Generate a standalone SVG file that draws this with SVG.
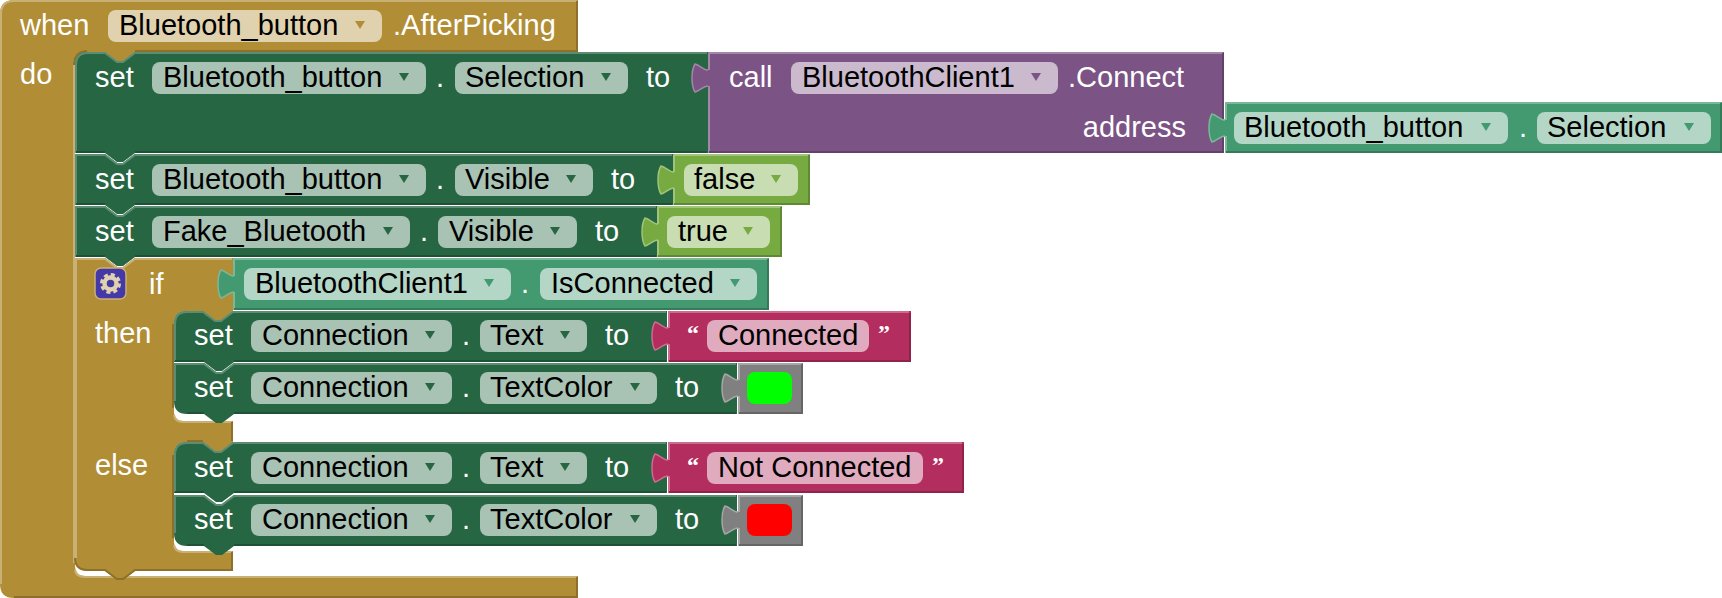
<svg xmlns="http://www.w3.org/2000/svg" width="1722" height="598" viewBox="0 0 1722 598">
<style>
text{font-family:"Liberation Sans",Arial,sans-serif;font-size:29px}
.w{fill:#fff}.k{fill:#000}
.e{fill:none;stroke-width:2}
.Y{fill:#b18e35}.Yl{stroke:#c9b074}.Yd{stroke:#8d712a}.Yf{fill:#e0d2ae}
.G{fill:#266643}.Gl{stroke:#5c8c72}.Gd{stroke:#1e5136}.Gf{fill:#a8c2b4}
.P{fill:#7c5385}.Pl{stroke:#a387a9}.Pd{stroke:#63426a}.Pf{fill:#cbbace}
.R{fill:#b32d5e}.Rl{stroke:#ca6c8e}.Rd{stroke:#8f244b}.Rf{fill:#e1abbf}
.T{fill:#439970}.Tl{stroke:#7bb89a}.Td{stroke:#357a59}.Tf{fill:#b4d6c6}
.B{fill:#77ab41}.Bl{stroke:#a0c47a}.Bd{stroke:#5f8934}.Bf{fill:#c9ddb3}
.N{fill:#808080}.Nl{stroke:#a6a6a6}.Nd{stroke:#666}
use[href="#tab"]{stroke-width:1.500}
.P[href="#tab"]{stroke:#a387a9}.R[href="#tab"]{stroke:#ca6c8e}.T[href="#tab"]{stroke:#7bb89a}.B[href="#tab"]{stroke:#a0c47a}.N[href="#tab"]{stroke:#a6a6a6}
.q{font-family:"Liberation Serif",serif;font-size:24px;font-weight:bold}
</style>
<defs>
<path id="tab" d="M0,-8 C-5,-8 -8,-13 -13,-14 C-15.500,-10 -16,-4 -16,0 C-16,4 -15.500,10 -13,14 C-8,13 -5,8 0,8"/>
<path id="arr" d="M-5,0 H5 L0,8 Z"/>
</defs>

<g id="when-block">
<path class="Y" d="M0,14 Q0,0 14,0 H578 V52 H135 L123,61 H117 L105,52 H88 Q75,52 75,65 V566 Q75,576 85,576 H578 V598 H14 Q0,598 0,584 Z"/>
<path class="e Yl" d="M1,584 V14 Q1,1 14,1 H577 M75,570 Q76,577 85,577 H577 M74,60 V563"/>
<path class="e Yd" d="M577,1 V51 H135 M577,577 V597 H14 M87,51 Q74,52 74,65"/>
<text class="w" x="20" y="35">when</text>
<rect class="Yf" x="108" y="10" width="274" height="32" rx="8"/>
<text class="k" x="119" y="35">Bluetooth_button</text>
<use href="#arr" class="Y" x="360" y="21"/>
<text class="w" x="393" y="35">.AfterPicking</text>
<text class="w" x="20" y="84">do</text>
</g>

<g id="set-selection">
<path class="G" d="M75,65 Q75,52 88,52 H105 L117,61 H123 L135,52 H708 V153 H135 L123,162 H117 L105,153 H75 Z"/>
<path class="e Gl" d="M76,153 V65 Q76,53 88,53 H105 L117,62 H123 L135,53 H707"/>
<path class="e Gd" d="M76,152 H105 M135,152 H707"/>
<text class="w" x="95" y="87">set</text>
<rect class="Gf" x="152" y="62" width="274" height="32" rx="8"/>
<text class="k" x="163" y="87">Bluetooth_button</text>
<use href="#arr" class="G" x="404" y="73"/>
<text class="w" x="436" y="87">.</text>
<rect class="Gf" x="455" y="62" width="173" height="32" rx="8"/>
<text class="k" x="465" y="87">Selection</text>
<use href="#arr" class="G" x="606" y="73"/>
<text class="w" x="646" y="87">to</text>
</g>

<g id="call-connect">
<path class="P" d="M708,52 H1224 V153 H708 Z"/>
<use href="#tab" class="P" x="708" y="78"/>
<path class="e Pl" d="M709,70 V53 H1223 M709,86 V153"/>
<path class="e Pd" d="M1223,53 V152 H709"/>
<text class="w" x="729" y="87">call</text>
<rect class="Pf" x="791" y="62" width="267" height="32" rx="8"/>
<text class="k" x="802" y="87">BluetoothClient1</text>
<use href="#arr" class="P" x="1036" y="73"/>
<text class="w" x="1068" y="87">.Connect</text>
<text class="w" x="1186" y="137" text-anchor="end">address</text>
</g>

<g id="get-selection">
<path class="T" d="M1225,102 H1722 V153 H1225 Z"/>
<use href="#tab" class="T" x="1225" y="128"/>
<path class="e Tl" d="M1226,120 V103 H1721 M1226,136 V153"/>
<path class="e Td" d="M1721,103 V152 H1226"/>
<rect class="Tf" x="1234" y="112" width="274" height="32" rx="8"/>
<text class="k" x="1244" y="137">Bluetooth_button</text>
<use href="#arr" class="T" x="1486" y="123"/>
<text class="w" x="1519" y="137">.</text>
<rect class="Tf" x="1537" y="112" width="174" height="32" rx="8"/>
<text class="k" x="1547" y="137">Selection</text>
<use href="#arr" class="T" x="1689" y="123"/>
</g>

<g id="set-visible-1">
<path class="G" d="M75,154 H105 L117,163 H123 L135,154 H673 V205 H135 L123,214 H117 L105,205 H75 Z"/>
<path class="e Gl" d="M76,205 V155 H105 L117,164 H123 L135,155 H672"/>
<path class="e Gd" d="M76,204 H105 M135,204 H672"/>
<text class="w" x="95" y="189">set</text>
<rect class="Gf" x="152" y="164" width="274" height="32" rx="8"/>
<text class="k" x="163" y="189">Bluetooth_button</text>
<use href="#arr" class="G" x="404" y="175"/>
<text class="w" x="436" y="189">.</text>
<rect class="Gf" x="455" y="164" width="138" height="32" rx="8"/>
<text class="k" x="465" y="189">Visible</text>
<use href="#arr" class="G" x="571" y="175"/>
<text class="w" x="611" y="189">to</text>
</g>

<g id="bool-false">
<path class="B" d="M673,154 H810 V205 H673 Z"/>
<use href="#tab" class="B" x="674" y="180"/>
<path class="e Bl" d="M674,172 V155 H809 M674,188 V205"/>
<path class="e Bd" d="M809,155 V204 H674"/>
<rect class="Bf" x="684" y="164" width="114" height="32" rx="8"/>
<text class="k" x="694" y="189">false</text>
<use href="#arr" class="B" x="776" y="175"/>
</g>

<g id="set-visible-2">
<path class="G" d="M75,206 H105 L117,215 H123 L135,206 H657 V257 H135 L123,266 H117 L105,257 H75 Z"/>
<path class="e Gl" d="M76,257 V207 H105 L117,216 H123 L135,207 H656"/>
<path class="e Gd" d="M76,256 H105 M135,256 H656"/>
<text class="w" x="95" y="241">set</text>
<rect class="Gf" x="152" y="216" width="258" height="32" rx="8"/>
<text class="k" x="163" y="241">Fake_Bluetooth</text>
<use href="#arr" class="G" x="388" y="227"/>
<text class="w" x="420" y="241">.</text>
<rect class="Gf" x="438" y="216" width="139" height="32" rx="8"/>
<text class="k" x="449" y="241">Visible</text>
<use href="#arr" class="G" x="555" y="227"/>
<text class="w" x="595" y="241">to</text>
</g>

<g id="bool-true">
<path class="B" d="M657,206 H782 V257 H657 Z"/>
<use href="#tab" class="B" x="658" y="232"/>
<path class="e Bl" d="M658,224 V207 H781 M658,240 V257"/>
<path class="e Bd" d="M781,207 V256 H658"/>
<rect class="Bf" x="667" y="216" width="103" height="32" rx="8"/>
<text class="k" x="678" y="241">true</text>
<use href="#arr" class="B" x="748" y="227"/>
</g>

<g id="if-block">
<path class="Y" d="M75,258 H105 L117,267 H123 L135,258 H233 V311 L221,320 H215 L203,311 H187 Q174,311 174,324 V412 Q174,421 183,421 H233 V442 L221,451 H215 L203,442 H187 Q174,442 174,455 V542 Q174,551 183,551 H233 V571 H135 L123,580 H117 L105,571 H88 Q75,571 75,558 Z"/>
<path class="e Yl" d="M76,558 V259 H105 L117,268 H123 L135,259 H232 M174,415 Q175,422 183,422 H232 M174,545 Q175,552 183,552 H232"/>
<path class="e Yd" d="M232,422 V441 M232,552 V570 H135 L123,579 H117 L105,570 H88 Q75,570 75,558 M173,324 V408 M173,455 V538 M187,441 H203"/>
<rect x="95" y="268" width="31" height="31" rx="6" fill="#4539a8" stroke="#c9b074" stroke-width="1.500"/>
<circle cx="110.500" cy="283.500" r="6" fill="none" stroke="#e0d2ae" stroke-width="4.500"/>
<circle cx="110.500" cy="283.500" r="9" fill="none" stroke="#e0d2ae" stroke-width="3" stroke-dasharray="4.070 3"/>
<text class="w" x="149" y="294">if</text>
<text class="w" x="95" y="343">then</text>
<text class="w" x="95" y="475">else</text>
</g>

<g id="get-isconnected">
<path class="T" d="M233,258 H769 V310 H233 Z"/>
<use href="#tab" class="T" x="234" y="284"/>
<path class="e Tl" d="M234,276 V259 H768 M234,292 V310"/>
<path class="e Td" d="M768,259 V309 H234"/>
<rect class="Tf" x="244" y="268" width="267" height="32" rx="8"/>
<text class="k" x="255" y="293">BluetoothClient1</text>
<use href="#arr" class="T" x="489" y="279"/>
<text class="w" x="521" y="293">.</text>
<rect class="Tf" x="540" y="268" width="217" height="32" rx="8"/>
<text class="k" x="551" y="293">IsConnected</text>
<use href="#arr" class="T" x="735" y="279"/>
</g>

<g id="then-set-text">
<path class="G" d="M174,324 Q174,311 187,311 H203 L215,320 H221 L233,311 H667 V362 H234 L222,371 H216 L204,362 H174 Z"/>
<path class="e Gl" d="M175,361 V324 Q175,312 187,312 H203 L215,321 H221 L233,312 H666"/>
<path class="e Gd" d="M175,361 H204 M234,361 H666"/>
<text class="w" x="194" y="345">set</text>
<rect class="Gf" x="251" y="320" width="201" height="32" rx="8"/>
<text class="k" x="262" y="345">Connection</text>
<use href="#arr" class="G" x="430" y="331"/>
<text class="w" x="462" y="345">.</text>
<rect class="Gf" x="480" y="320" width="107" height="32" rx="8"/>
<text class="k" x="490" y="345">Text</text>
<use href="#arr" class="G" x="565" y="331"/>
<text class="w" x="605" y="345">to</text>
</g>

<g id="text-connected">
<path class="R" d="M668,311 H911 V362 H668 Z"/>
<use href="#tab" class="R" x="668" y="336"/>
<path class="e Rl" d="M669,328 V312 H909 M669,344 V362"/>
<path class="e Rd" d="M910,313 V361 H669"/>
<text class="w q" x="687" y="341">“</text>
<rect class="Rf" x="707" y="320" width="162" height="32" rx="8"/>
<text class="k" x="718" y="345">Connected</text>
<text class="w q" x="878" y="341">”</text>
</g>

<g id="then-set-color">
<path class="G" d="M174,363 H204 L216,372 H222 L234,363 H737 V414 H234 L222,423 H216 L204,414 H187 Q174,414 174,401 Z"/>
<path class="e Gl" d="M175,401 V364 H204 L216,373 H222 L234,364 H736"/>
<path class="e Gd" d="M187,413 H204 M234,413 H736"/>
<text class="w" x="194" y="397">set</text>
<rect class="Gf" x="251" y="372" width="201" height="32" rx="8"/>
<text class="k" x="262" y="397">Connection</text>
<use href="#arr" class="G" x="430" y="383"/>
<text class="w" x="462" y="397">.</text>
<rect class="Gf" x="480" y="372" width="177" height="32" rx="8"/>
<text class="k" x="490" y="397">TextColor</text>
<use href="#arr" class="G" x="635" y="383"/>
<text class="w" x="675" y="397">to</text>
</g>

<g id="color-green">
<path class="N" d="M738,363 H803 V414 H738 Z"/>
<use href="#tab" class="N" x="738" y="388"/>
<path class="e Nl" d="M739,380 V364 H802 M739,396 V414"/>
<path class="e Nd" d="M802,364 V413 H739"/>
<rect x="747" y="372" width="45" height="32" rx="8" fill="#00ff00"/>
</g>

<g id="else-set-text">
<path class="G" d="M174,455 Q174,442 187,442 H203 L215,451 H221 L233,442 H667 V493 H234 L222,502 H216 L204,493 H174 Z"/>
<path class="e Gl" d="M175,492 V455 Q175,443 187,443 H203 L215,452 H221 L233,443 H666"/>
<path class="e Gd" d="M175,492 H204 M234,492 H666"/>
<text class="w" x="194" y="477">set</text>
<rect class="Gf" x="251" y="452" width="201" height="32" rx="8"/>
<text class="k" x="262" y="477">Connection</text>
<use href="#arr" class="G" x="430" y="463"/>
<text class="w" x="462" y="477">.</text>
<rect class="Gf" x="480" y="452" width="107" height="32" rx="8"/>
<text class="k" x="490" y="477">Text</text>
<use href="#arr" class="G" x="565" y="463"/>
<text class="w" x="605" y="477">to</text>
</g>

<g id="text-not-connected">
<path class="R" d="M668,442 H964 V493 H668 Z"/>
<use href="#tab" class="R" x="668" y="468"/>
<path class="e Rl" d="M669,460 V443 H962 M669,476 V493"/>
<path class="e Rd" d="M963,444 V492 H669"/>
<text class="w q" x="687" y="473">“</text>
<rect class="Rf" x="707" y="452" width="216" height="32" rx="8"/>
<text class="k" x="718" y="477">Not Connected</text>
<text class="w q" x="932" y="473">”</text>
</g>

<g id="else-set-color">
<path class="G" d="M174,495 H204 L216,504 H222 L234,495 H737 V546 H234 L222,555 H216 L204,546 H187 Q174,546 174,533 Z"/>
<path class="e Gl" d="M175,533 V496 H204 L216,505 H222 L234,496 H736"/>
<path class="e Gd" d="M187,545 H204 M234,545 H736"/>
<text class="w" x="194" y="529">set</text>
<rect class="Gf" x="251" y="504" width="201" height="32" rx="8"/>
<text class="k" x="262" y="529">Connection</text>
<use href="#arr" class="G" x="430" y="515"/>
<text class="w" x="462" y="529">.</text>
<rect class="Gf" x="480" y="504" width="177" height="32" rx="8"/>
<text class="k" x="490" y="529">TextColor</text>
<use href="#arr" class="G" x="635" y="515"/>
<text class="w" x="675" y="529">to</text>
</g>

<g id="color-red">
<path class="N" d="M738,495 H803 V546 H738 Z"/>
<use href="#tab" class="N" x="738" y="520"/>
<path class="e Nl" d="M739,512 V496 H802 M739,528 V546"/>
<path class="e Nd" d="M802,496 V545 H739"/>
<rect x="747" y="504" width="45" height="32" rx="8" fill="#ff0000"/>
</g>

<g id="connectors"></g>
</svg>
